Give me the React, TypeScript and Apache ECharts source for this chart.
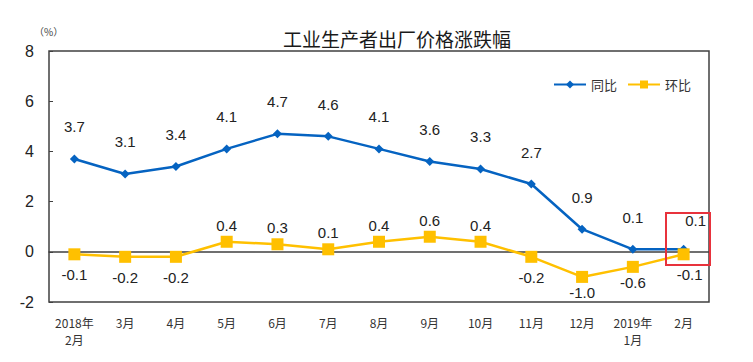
import React, { useEffect, useRef } from "react";
import * as echarts from "echarts";

const categories = ["2018年\n2月", "3月", "4月", "5月", "6月", "7月", "8月", "9月", "10月", "11月", "12月", "2019年\n1月", "2月"];
const yoy = [3.7, 3.1, 3.4, 4.1, 4.7, 4.6, 4.1, 3.6, 3.3, 2.7, 0.9, 0.1, 0.1];
const mom = [-0.1, -0.2, -0.2, 0.4, 0.3, 0.1, 0.4, 0.6, 0.4, -0.2, -1.0, -0.6, -0.1];
const yTicks = { min: -2, max: 8, interval: 2 };

const FONT = "'Liberation Sans', Arial, sans-serif";
const CJK = "'Noto Sans CJK SC', sans-serif";

export default function App() {
  const ref = useRef<HTMLDivElement>(null);
  useEffect(() => {
    const chart = echarts.init(ref.current!, null, { renderer: "svg" });
    const last = yoy.length - 1;
    const yoyData = yoy.map((v, i) => (i === last ? { value: v, label: { offset: [12, 3] } } : v));
    const momData = mom.map((v, i) => ({
      value: v,
      label:
        v >= 0
          ? { position: "top", distance: 3 }
          : { position: "bottom", distance: v <= -0.5 ? 2 : 7, offset: i === last ? [6, 0] : [0, 0] },
    }));
    chart.setOption({
      animation: false,
      backgroundColor: "#ffffff",
      title: {
        text: "工业生产者出厂价格涨跌幅",
        left: 392,
        textAlign: "center",
        top: 24,
        textStyle: { fontFamily: CJK, fontSize: 19, fontWeight: "normal", color: "#1a1a1a" },
      },
      legend: {
        left: 548,
        top: 73,
        itemWidth: 32,
        itemHeight: 10,
        itemGap: 10,
        textStyle: { fontFamily: CJK, fontSize: 13, color: "#333" },
        data: ["同比", "环比"],
      },
      grid: {
        left: 49,
        right: 44,
        top: 51,
        bottom: 60,
        show: true,
        borderColor: "#404040",
        borderWidth: 1.5,
      },
      graphic: [
        {
          type: "text",
          left: 34,
          top: 26,
          style: { text: "（%）", fontFamily: CJK, fontSize: 10, fill: "#444" },
        },
        {
          type: "rect",
          shape: { x: 666, y: 213, width: 44, height: 52 },
          style: { fill: "none", stroke: "#e8323c", lineWidth: 2 },
          z: 100,
        },
      ],
      xAxis: [
        {
          type: "category",
          data: categories,
          position: "bottom",
          axisLine: { onZero: true, lineStyle: { color: "#404040", width: 1.5 } },
          axisTick: { inside: true, length: 5, lineStyle: { color: "#404040" } },
          axisLabel: { show: false },
        },
        {
          type: "category",
          data: categories,
          position: "bottom",
          axisLine: { show: false, onZero: false },
          axisTick: { show: false },
          axisLabel: {
            margin: 12,
            fontFamily: CJK,
            fontSize: 12,
            color: "#333",
            lineHeight: 17,
            interval: 0,
          },
        },
      ],
      yAxis: {
        type: "value",
        min: yTicks.min,
        max: yTicks.max,
        interval: yTicks.interval,
        axisLine: { show: false },
        axisTick: { show: true, inside: true, length: 4, lineStyle: { color: "#404040" } },
        splitLine: { show: false },
        axisLabel: { fontFamily: FONT, fontSize: 16, color: "#222", margin: 15 },
      },
      series: [
        {
          name: "同比",
          type: "line",
          data: yoyData,
          xAxisIndex: 0,
          symbol: "diamond",
          symbolSize: 9,
          color: "#0563C1",
          lineStyle: { width: 2.5, color: "#0563C1" },
          itemStyle: { color: "#0563C1" },
          label: {
            show: true,
            position: "top",
            distance: 20,
            fontFamily: FONT,
            fontSize: 15,
            color: "#222",
            formatter: (p: any) => Number(p.value).toFixed(1),
          },
          z: 3,
        },
        {
          name: "环比",
          type: "line",
          data: momData,
          xAxisIndex: 0,
          symbol: "rect",
          symbolSize: 12,
          color: "#FFC000",
          lineStyle: { width: 2.5, color: "#FFC000" },
          itemStyle: { color: "#FFC000" },
          label: {
            show: true,
            fontFamily: FONT,
            fontSize: 15,
            color: "#222",
            formatter: (p: any) => Number(p.value).toFixed(1),
          },
          z: 4,
        },
      ],
    });
    return () => chart.dispose();
  }, []);
  return <div ref={ref} style={{ width: 753, height: 362, position: "absolute", left: 0, top: 0 }} />;
}
